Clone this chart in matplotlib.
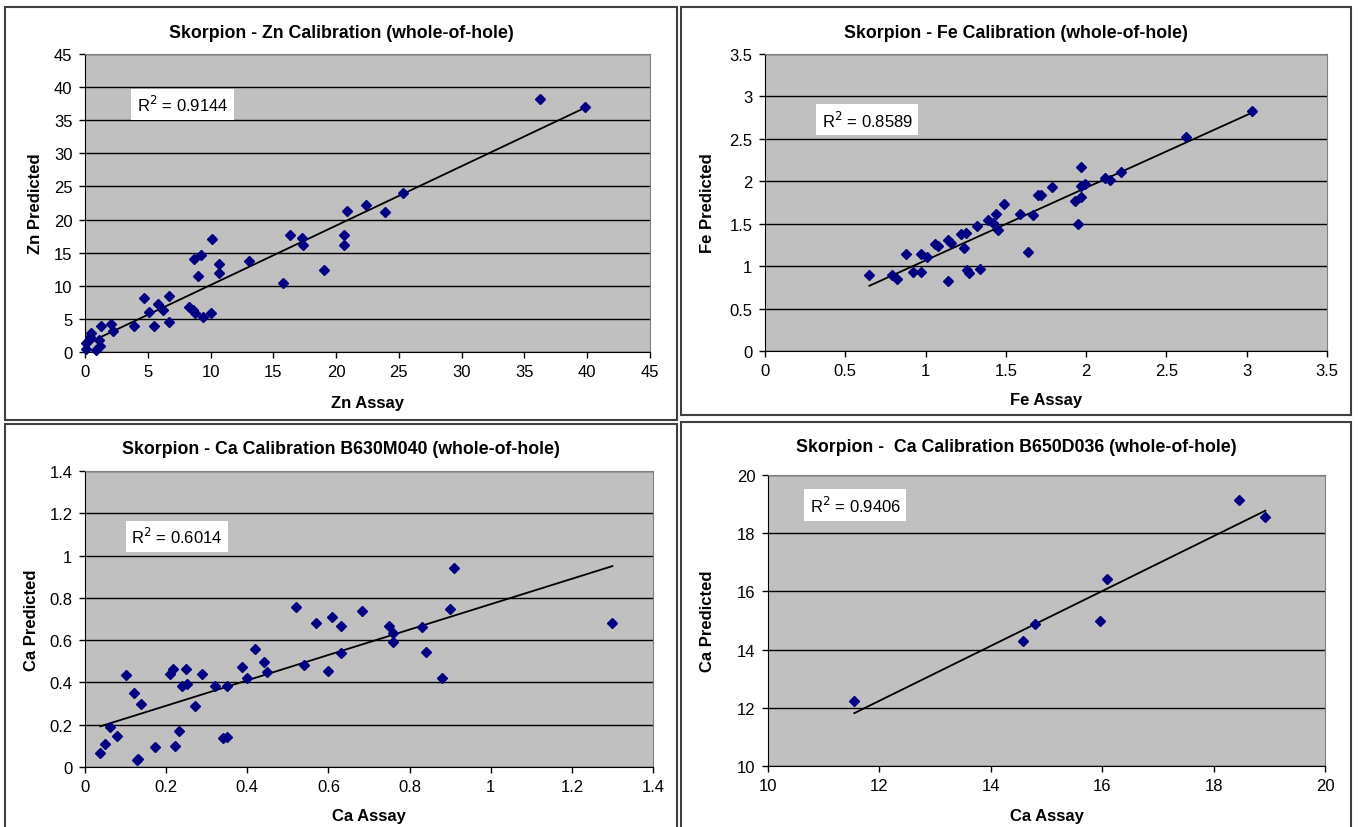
import numpy as np
import matplotlib
matplotlib.use("Agg")
import matplotlib.pyplot as plt
from matplotlib.patches import Rectangle
from matplotlib.ticker import FuncFormatter

# Zn calibration (assay vs predicted)
zn_assay = [25.3, 22.4, 23.9, 20.9, 20.6, 20.6, 16.3, 17.3, 17.4, 19.0,
            15.8, 13.1, 10.1, 10.7, 10.7, 9.2, 8.7, 9.0, 8.3, 8.6,
            8.8, 9.4, 10.0, 6.7, 6.7, 5.8, 6.2, 5.1, 4.7, 5.5,
            3.9, 2.1, 2.2, 1.3, 0.5, 0.4, 1.1, 1.2, 0.9, 0.1,
            0.1, 0.3, 36.2, 39.8]
zn_pred = [24.0, 22.2, 21.1, 21.3, 17.6, 16.1, 17.6, 17.2, 16.2, 12.4,
           10.4, 13.8, 17.0, 13.3, 11.9, 14.6, 14.1, 11.5, 6.8, 6.3,
           5.9, 5.3, 5.9, 8.4, 4.5, 7.2, 6.4, 6.0, 8.1, 3.9,
           3.9, 4.2, 3.2, 3.9, 2.8, 2.3, 1.8, 0.9, 0.3, 0.4,
           1.3, 1.8, 38.2, 37.0]

# Fe calibration
fe_assay = [3.03, 2.62, 1.97, 2.22, 2.12, 2.15, 1.99, 1.97, 1.79, 1.70,
            1.72, 1.97, 1.93, 1.95, 1.49, 1.59, 1.67, 1.44, 1.39, 1.42,
            1.45, 1.32, 1.22, 1.25, 1.24, 1.14, 1.16, 1.06, 1.08, 1.64,
            0.97, 1.01, 0.88, 1.34, 1.26, 1.27, 0.97, 0.92, 0.79, 0.82,
            0.65, 1.14]
fe_pred = [2.83, 2.52, 2.17, 2.11, 2.04, 2.01, 1.97, 1.94, 1.93, 1.84,
           1.84, 1.81, 1.77, 1.50, 1.73, 1.62, 1.60, 1.61, 1.54, 1.51,
           1.43, 1.47, 1.38, 1.39, 1.21, 1.31, 1.27, 1.26, 1.24, 1.17,
           1.14, 1.11, 1.14, 0.97, 0.95, 0.92, 0.93, 0.93, 0.90, 0.85,
           0.90, 0.83]

# Ca calibration B630M040
ca1_assay = [0.909, 0.90, 1.30, 0.52, 0.682, 0.609, 0.570, 0.632, 0.75, 0.83,
             0.759, 0.759, 0.841, 0.88, 0.632, 0.598, 0.541, 0.42, 0.441, 0.448,
             0.388, 0.40, 0.35, 0.321, 0.289, 0.25, 0.218, 0.209, 0.252, 0.239,
             0.271, 0.232, 0.221, 0.341, 0.35, 0.173, 0.13, 0.128, 0.10, 0.121,
             0.139, 0.061, 0.079, 0.05, 0.038]
ca1_pred = [0.941, 0.746, 0.683, 0.759, 0.738, 0.708, 0.683, 0.667, 0.667, 0.662,
            0.635, 0.590, 0.544, 0.422, 0.540, 0.456, 0.483, 0.560, 0.495, 0.449,
            0.475, 0.422, 0.381, 0.383, 0.438, 0.465, 0.463, 0.440, 0.394, 0.381,
            0.290, 0.170, 0.098, 0.137, 0.140, 0.095, 0.040, 0.032, 0.433, 0.352,
            0.297, 0.190, 0.146, 0.108, 0.068]

# Ca calibration B650D036
ca2_assay = [18.45, 18.93, 16.09, 14.79, 14.57, 15.96, 11.55]
ca2_pred = [19.13, 18.55, 16.43, 14.88, 14.31, 14.98, 12.24]

panels = [
    dict(x=zn_assay, y=zn_pred, lim=(0, 45), ylim=(0, 45), xstep=5, ystep=5,
         title="Skorpion - Zn Calibration (whole-of-hole)",
         xlabel="Zn Assay", ylabel="Zn Predicted", r2="0.9144",
         pos=[85, 55, 650, 353], box=[5, 8, 677, 421], r2pos=(0.092, 0.832),
         xlab=-0.144, ylab=-0.074),
    dict(x=fe_assay, y=fe_pred, lim=(0, 3.5), ylim=(0, 3.5), xstep=0.5, ystep=0.5,
         title="Skorpion - Fe Calibration (whole-of-hole)",
         xlabel="Fe Assay", ylabel="Fe Predicted", r2="0.8589",
         pos=[765, 55, 1327, 352], box=[681, 8, 1351, 416], r2pos=(0.101, 0.778),
         xlab=-0.138, ylab=-0.089),
    dict(x=ca1_assay, y=ca1_pred, lim=(0, 1.4), ylim=(0, 1.4), xstep=0.2, ystep=0.2,
         title="Skorpion - Ca Calibration B630M040 (whole-of-hole)",
         xlabel="Ca Assay", ylabel="Ca Predicted", r2="0.6014",
         pos=[85, 472, 653, 768], box=[5, 425, 677, 840], r2pos=(0.081, 0.78),
         xlab=-0.139, ylab=-0.081),
    dict(x=ca2_assay, y=ca2_pred, lim=(10, 20), ylim=(10, 20), xstep=2, ystep=2,
         title="Skorpion -  Ca Calibration B650D036 (whole-of-hole)",
         xlabel="Ca Assay", ylabel="Ca Predicted", r2="0.9406",
         pos=[768, 476, 1325, 767], box=[681, 423, 1351, 840], r2pos=(0.075, 0.897),
         xlab=-0.144, ylab=-0.095),
]

W, H = 1358, 828


def main():
    plt.rcParams["font.family"] = ["Liberation Sans", "DejaVu Sans"]
    fig = plt.figure(figsize=(W / 100, H / 100), dpi=100)
    fmt = FuncFormatter(lambda v, p: f"{v:g}")

    for p in panels:
        bx0, by0, bx1, by1 = p["box"]
        fig.patches.append(Rectangle((bx0 / W, 1 - by1 / H), (bx1 - bx0) / W,
                                     (by1 - by0) / H, transform=fig.transFigure,
                                     fill=False, edgecolor="#404040", lw=1.5))
        fig.text((bx0 + bx1) / 2 / W, 1 - (by0 + 25) / H, p["title"],
                 ha="center", va="center", fontsize=12.8, fontweight="bold")

        x0, y0, x1, y1 = p["pos"]
        ax = fig.add_axes([x0 / W, 1 - y1 / H, (x1 - x0) / W, (y1 - y0) / H])
        ax.set_facecolor("#C0C0C0")
        ax.set_xlim(*p["lim"])
        ax.set_ylim(*p["ylim"])
        ax.set_xticks(np.arange(p["lim"][0], p["lim"][1] + 1e-9, p["xstep"]))
        ax.set_yticks(np.arange(p["ylim"][0], p["ylim"][1] + 1e-9, p["ystep"]))
        ax.xaxis.set_major_formatter(fmt)
        ax.yaxis.set_major_formatter(fmt)
        ax.set_axisbelow(True)
        ax.grid(axis="y", color="black", lw=1)
        for s in ["top", "right"]:
            ax.spines[s].set_color("#808080")
        for s in ["left", "bottom"]:
            ax.spines[s].set_color("black")
        ax.tick_params(direction="out", length=4, width=1, labelsize=12, pad=5)

        # linear trendline
        x = np.array(p["x"])
        y = np.array(p["y"])
        k, b = np.polyfit(x, y, 1)
        xs = np.array([x.min(), x.max()])
        ax.plot(xs, k * xs + b, color="black", lw=1.3, zorder=3)
        ax.plot(x, y, "D", color="#000080", ms=5.5, zorder=4, clip_on=False)

        ax.text(p["r2pos"][0], p["r2pos"][1], "R$^2$ = " + p["r2"],
                transform=ax.transAxes, ha="left", va="center", fontsize=12,
                bbox=dict(facecolor="white", edgecolor="none", pad=4))

        ax.set_xlabel(p["xlabel"], fontsize=12, fontweight="bold")
        ax.set_ylabel(p["ylabel"], fontsize=12, fontweight="bold")
        ax.xaxis.set_label_coords(0.5, p["xlab"])
        ax.yaxis.set_label_coords(p["ylab"], 0.5)

    fig.savefig("out.png", dpi=100)


if __name__ == "__main__":
    main()
